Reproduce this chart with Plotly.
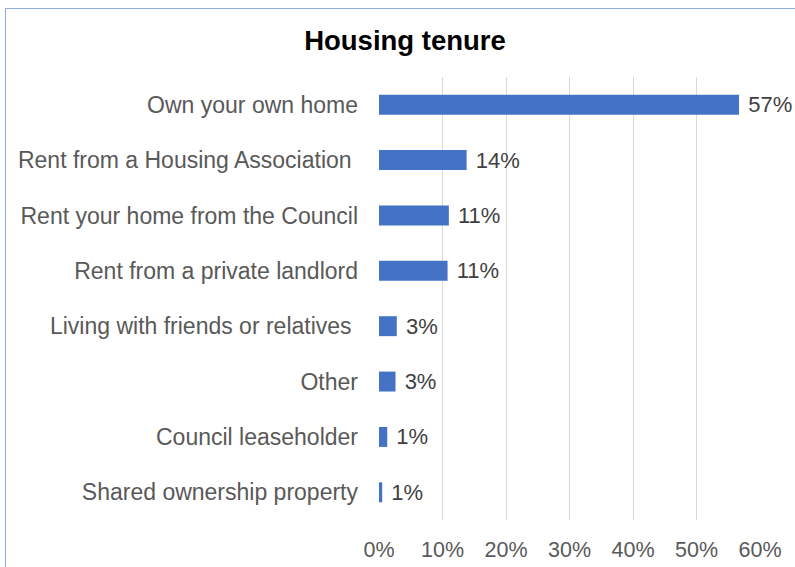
import plotly.graph_objects as go

categories = [
    "Own your own home",
    "Rent from a Housing Association\u00a0",
    "Rent your home from the Council",
    "Rent from a private landlord",
    "Living with friends or relatives\u00a0",
    "Other",
    "Council leaseholder",
    "Shared ownership property",
]
values = [56.7, 13.8, 11.0, 10.8, 2.8, 2.6, 1.3, 0.5]
value_labels = ["57%", "14%", "11%", "11%", "3%", "3%", "1%", "1%"]
tick_values = [0, 10, 20, 30, 40, 50, 60]
tick_labels = ["0%", "10%", "20%", "30%", "40%", "50%", "60%"]

W, H = 795, 567
L, R, T, B = 379, 35, 77, 47
pw, ph = W - L - R, H - T - B

fig = go.Figure(go.Bar(
    y=categories,
    x=values,
    orientation="h",
    marker=dict(color="#4472C4", line=dict(width=0)),
    text=["\u00a0" + t for t in value_labels],
    textposition="outside",
    textfont=dict(family="Liberation Sans, Arial", size=22, color="#404040"),
    constraintext="none",
    cliponaxis=False,
    hoverinfo="skip",
))

fig.update_layout(
    width=W, height=H,
    autosize=False,
    margin=dict(l=L, r=R, t=T, b=B),
    paper_bgcolor="white",
    plot_bgcolor="white",
    bargap=0.64,
    showlegend=False,
    font=dict(family="Liberation Sans, Arial", size=22, color="#595959"),
    title=dict(
        text="<b>Housing tenure</b>",
        x=405 / W, xref="container", xanchor="center",
        y=1 - 40 / H, yref="container", yanchor="middle",
        font=dict(family="Liberation Sans, Arial", size=27.5, color="#000000"),
    ),
    xaxis=dict(
        range=[0, 60],
        autorange=False,
        tickvals=tick_values,
        ticktext=tick_labels,
        showgrid=True,
        gridcolor="#D9D9D9",
        gridwidth=1,
        zeroline=False,
        showline=False,
        ticks="",
        ticklabelstandoff=14,
        tickfont=dict(size=21.5, color="#595959"),
        automargin=False,
        fixedrange=True,
    ),
    yaxis=dict(
        type="category",
        range=[len(categories) - 0.5, -0.5],
        autorange=False,
        showgrid=False,
        zeroline=False,
        showline=False,
        ticks="",
        ticklabelstandoff=20,
        tickfont=dict(size=23, color="#595959"),
        automargin=False,
        fixedrange=True,
    ),
    shapes=[dict(
        type="rect", xref="paper", yref="paper",
        x0=(5.5 - L) / pw, x1=2.0,
        y0=-1.0, y1=1 + (T - 8.5) / ph,
        line=dict(color="#8FAADC", width=1),
        fillcolor="rgba(0,0,0,0)",
        layer="below",
    )],
)

fig.write_html(
    "out.html",
    config={"displayModeBar": False, "responsive": False},
    post_script="document.body.style.margin='0';document.body.style.padding='0';",
)
